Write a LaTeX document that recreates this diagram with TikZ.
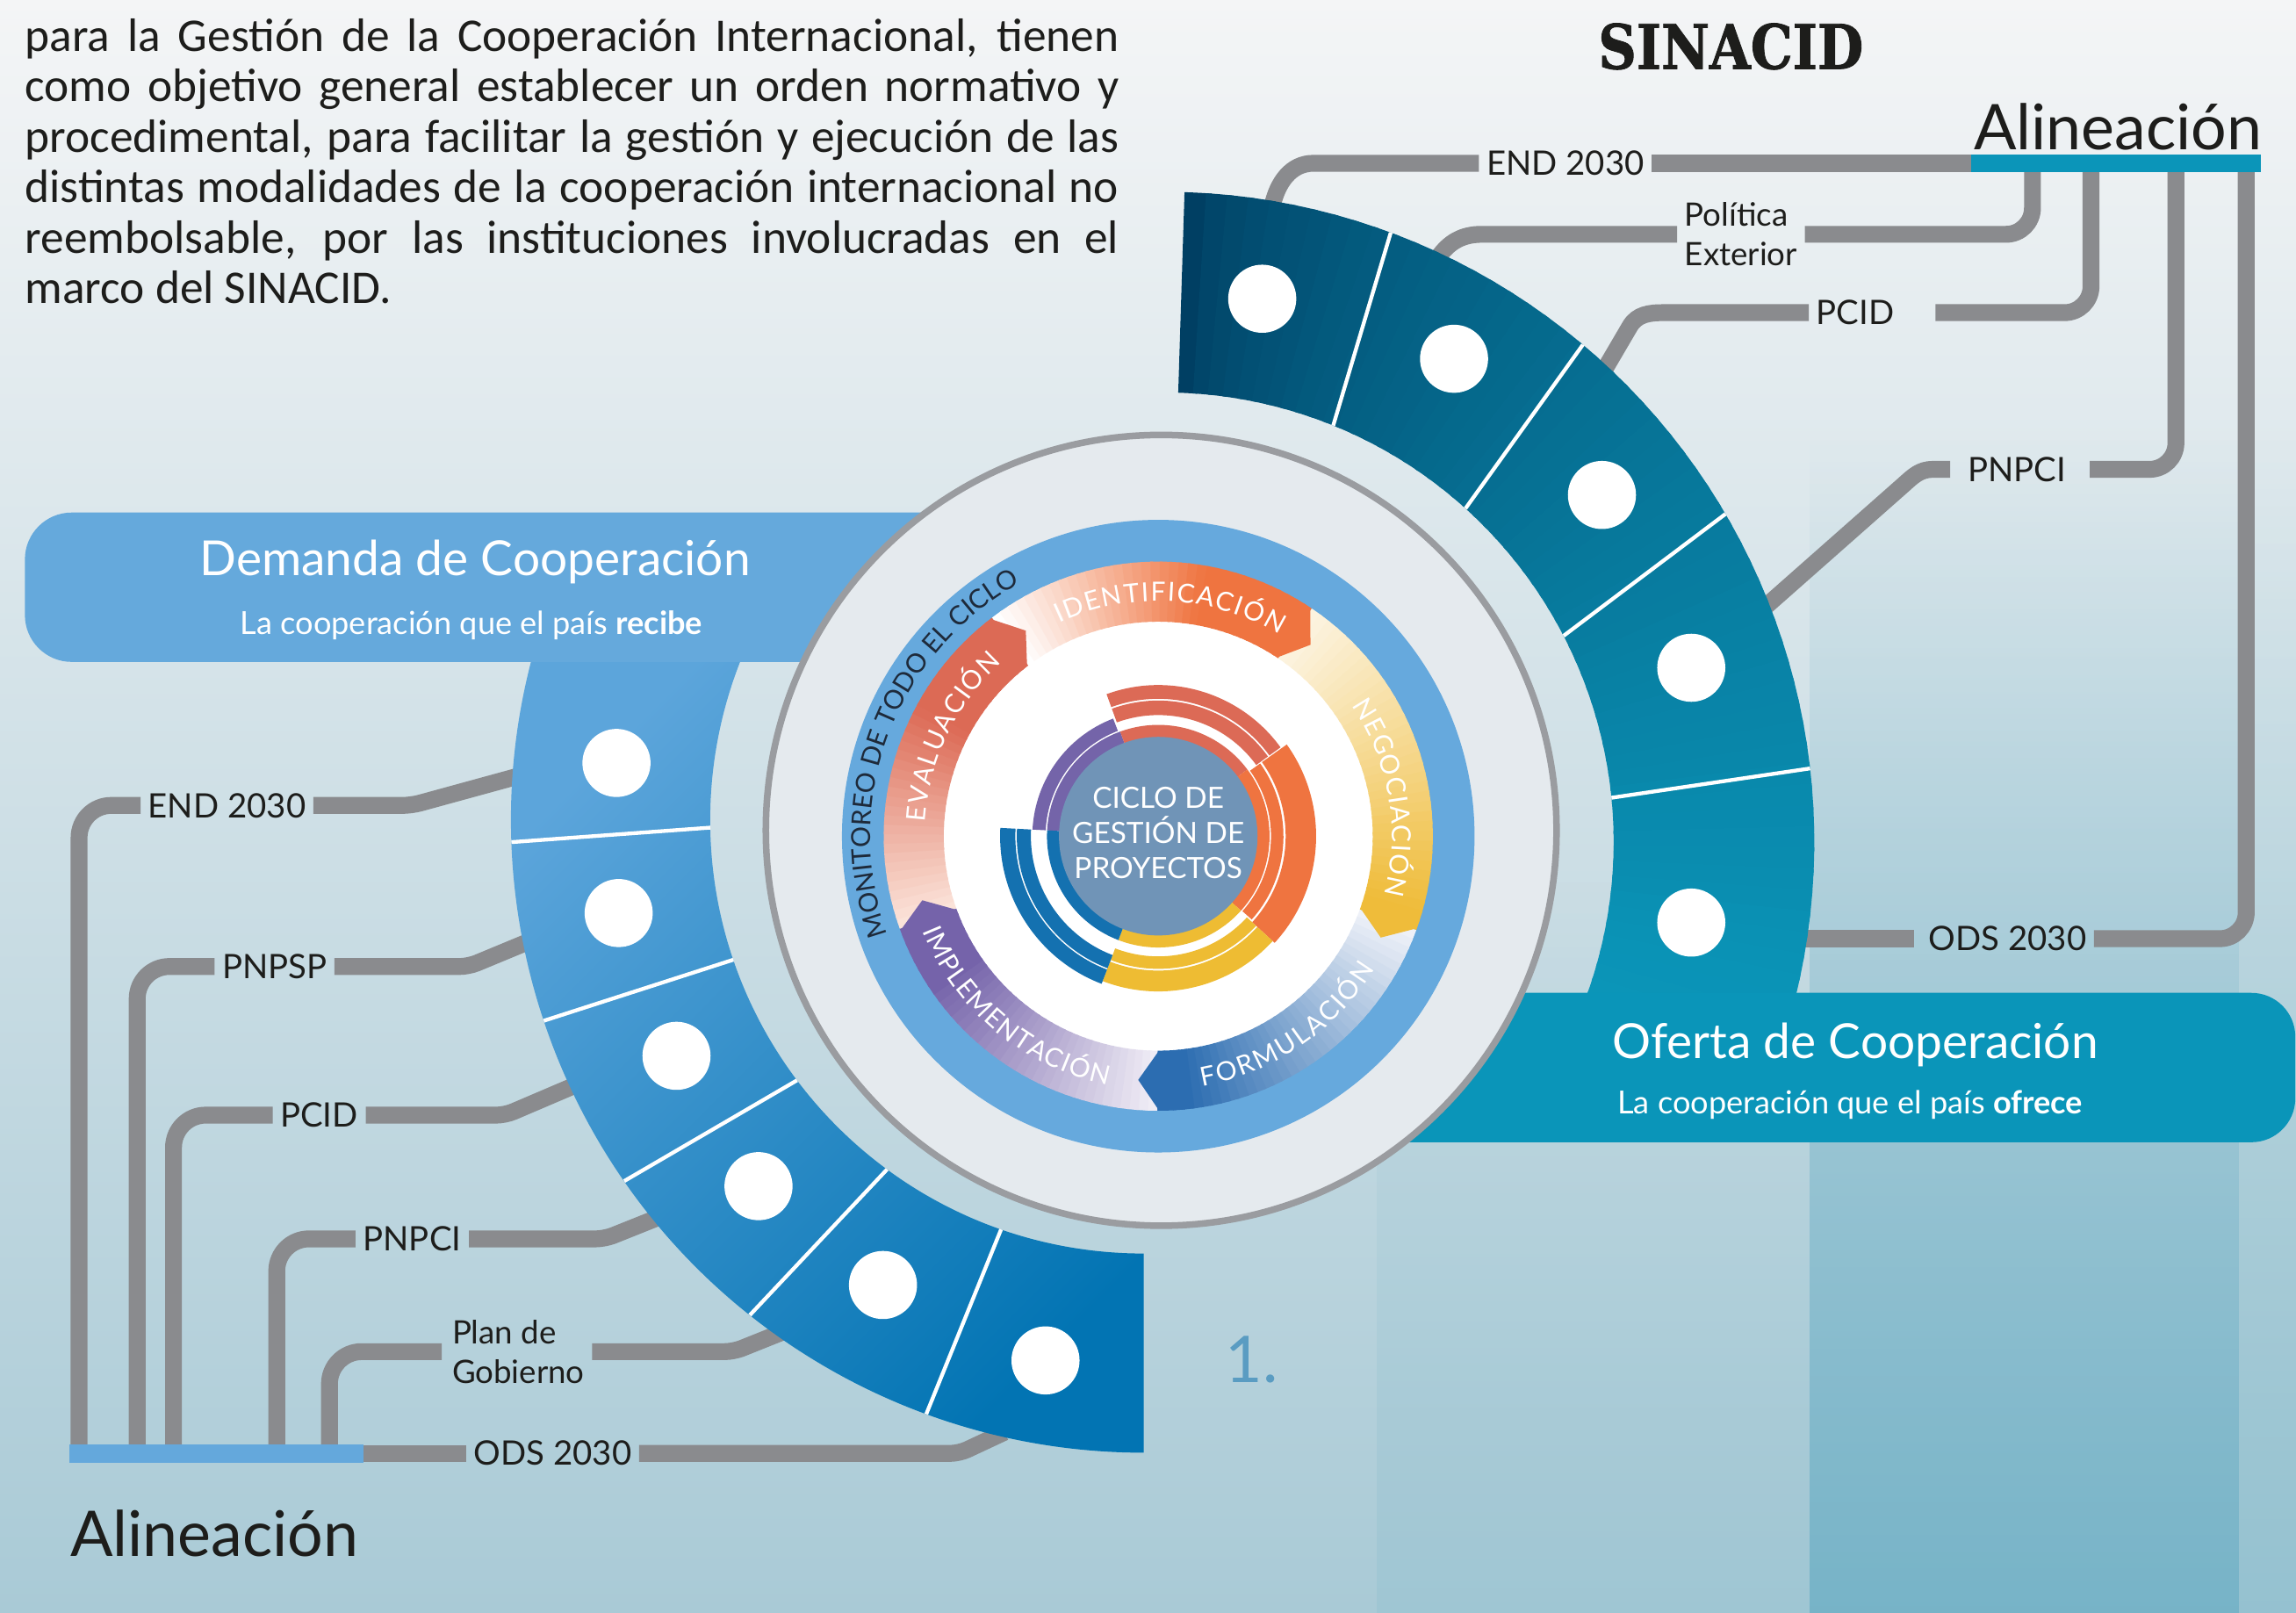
\documentclass[tikz,border=0pt]{standalone}
\usepackage{fontspec}
\setmainfont{Lato}
\newfontfamily\lato{Lato}
\newfontfamily\bodyfont{Carlito}
\newfontfamily\sinfont{DejaVu Serif}[FakeStretch=0.86, BoldFeatures={FakeBold=1.2}]
\usetikzlibrary{calc,decorations.text,fadings}

\definecolor{bgA}{HTML}{F4F5F6}
\definecolor{bgB}{HTML}{E0E7EB}
\definecolor{bgC}{HTML}{A9CAD6}
\definecolor{stripA}{HTML}{5FA9C1}
\definecolor{stripB}{HTML}{8DBFCE}
\definecolor{stripC}{HTML}{82BACB}
\definecolor{lgray}{HTML}{8A8B8E}
\definecolor{labtext}{HTML}{1D1D1B}
\definecolor{bodytext}{HTML}{1D1D1B}
\definecolor{barteal}{HTML}{0B95B9}
\definecolor{barblue}{HTML}{64A8DC}
\definecolor{dembox}{HTML}{65A9DC}
\definecolor{ofbox}{HTML}{0A95B9}
\definecolor{dmA}{HTML}{5CA5DB}
\definecolor{dmB}{HTML}{0274B3}
\definecolor{ofA}{HTML}{003E62}
\definecolor{ofB}{HTML}{0B97BA}
\definecolor{ringgray}{HTML}{9A9CA0}
\definecolor{circfill}{HTML}{E5EAEE}
\definecolor{ringblue}{HTML}{66A9DD}
\definecolor{diskblue}{HTML}{7094B7}
\definecolor{monit}{HTML}{1E2A3A}
\definecolor{numblue}{HTML}{5A9CC2}
\definecolor{identE}{HTML}{EF7440}
\definecolor{negS}{HTML}{FCF3DF}
\definecolor{negE}{HTML}{EFBC3A}
\definecolor{formS}{HTML}{EEF1F8}
\definecolor{formE}{HTML}{2C6DB1}
\definecolor{implS}{HTML}{EFECF5}
\definecolor{implE}{HTML}{7563AA}
\definecolor{evalS}{HTML}{FBE3D9}
\definecolor{evalE}{HTML}{DC6A55}
\definecolor{rPurple}{HTML}{7464A9}
\definecolor{rRed}{HTML}{DC6A56}
\definecolor{rOrange}{HTML}{EF7440}
\definecolor{rYellow}{HTML}{EEBC33}
\definecolor{rBlue}{HTML}{1471B0}

\tikzfading[name=fadetop, top color=transparent!100, bottom color=transparent!0]

\newcommand\phfont{\lato\fontsize{18}{18}\selectfont\color{white}}
\newcommand\monfont{\lato\fontsize{18}{18}\selectfont\color{monit}}

% start angle, end angle, start colour, end colour, speed
\newcommand\phaseseg[5]{%
  \foreach \k in {0,...,35}{%
    \pgfmathsetmacro\phA{#1+(#2-#1)*\k/36}%
    \pgfmathsetmacro\phB{#1+(#2-#1)*min(\k+1.3,36)/36}%
    \pgfmathtruncatemacro\phT{min(100,#5*\k/35*100)}%
    \fill[#4!\phT!#3] (\phA:146.5pt) arc[start angle=\phA,end angle=\phB,radius=146.5pt]
      -- (\phB:187.5pt) arc[start angle=\phB,end angle=\phA,radius=187.5pt] -- cycle;
  }}
\newcommand\phasetip[2]{\fill[#2] (#1+0.4:187.5pt) -- (#1-4.5:167pt) -- (#1+0.4:146.5pt) -- cycle;}
% colour, a1, a2, r1, r2
\newcommand\bandarc[5]{\fill[#1] (#2:#4pt) arc[start angle=#2,end angle=#3,radius=#4pt] -- (#3:#5pt) arc[start angle=#3,end angle=#2,radius=#5pt] -- cycle;}

\begin{document}
\begin{tikzpicture}[x=1pt,y=1pt,
  conn/.style={draw=lgray, line width=11.5pt},
  lbl/.style={font=\lato\fontsize{23}{27}\selectfont, text=labtext, inner ysep=0pt, inner xsep=5pt},
  lbltwo/.style={lbl, font=\lato\fontsize{22}{27}\selectfont, align=left},
  whitedot/.style={circle, fill=white, minimum size=46.5pt, inner sep=0pt},
  sepline/.style={draw=white, line width=2.6pt},
  bodyline/.style={anchor=base west, inner sep=0pt, font=\bodyfont\fontsize{32}{34.5}\selectfont, text=bodytext},
]
\useasboundingbox (0,0) rectangle (1568,-1101);
\shade[top color=bgA, middle color=bgB, bottom color=bgC] (0,0) rectangle (1568,-1101);
% subtle vertical strips of the backdrop (faded in from the top)
\fill[stripB, fill opacity=0.45, path fading=fadetop] (940,-600) rectangle (1236,-1250);
\fill[stripA, fill opacity=0.8, path fading=fadetop] (1236,-300) rectangle (1529,-1250);
\fill[stripC, fill opacity=0.6, path fading=fadetop] (1529,-300) rectangle (1568,-1250);

% ---------------- paragraph
\node[bodyline] (b1) at (17,-35) {\makebox[747pt][s]{para la Gestión de la Cooperación Internacional, tienen}};
\node[bodyline] (b2) at (17,-69.5) {\makebox[747pt][s]{como objetivo general establecer un orden normativo y}};
\node[bodyline] (b3) at (17,-103.9) {\makebox[747pt][s]{procedimental, para facilitar la gestión y ejecución de las}};
\node[bodyline] (b4) at (17,-138.4) {\makebox[747pt][s]{distintas modalidades de la cooperación internacional no}};
\node[bodyline] (b5) at (17,-172.8) {\makebox[747pt][s]{reembolsable, por las instituciones involucradas en el}};
\node[bodyline] (b6) at (17,-207.3) {marco del SINACID.};

% ---------------- titles
\node[anchor=base, inner sep=0pt, font=\sinfont\bfseries\fontsize{42}{42}\selectfont, text=labtext] (sinacid) at (1182,-47) {SINACID};
\node[anchor=base, inner sep=0pt, font=\lato\fontsize{43}{43}\selectfont, text=labtext] (alinR) at (1446.5,-102) {Alineación};
\node[anchor=base, inner sep=0pt, font=\lato\fontsize{43}{43}\selectfont, text=labtext] (alinL) at (146.5,-1063) {Alineación};
\node[anchor=base, inner sep=0pt, font=\lato\fontsize{44}{44}\selectfont, text=numblue] (num) at (855,-944) {1.};

% ---------------- right connectors (Oferta)
\coordinate (barR1) at (1346,-111.5);
\coordinate (barR2) at (1544,-111.5);
\node[lbl] (tEndR) at (1069,-111.5) {END 2030};
\node[lbltwo] (tPolR) at (1189,-160) {Política\\Exterior};
\node[lbl] (tPcidR) at (1267,-213.5) {PCID};
\node[lbl] (tPnpciR) at (1377.5,-320.5) {PNPCI};
\node[lbl] (tOdsR) at (1371,-641) {ODS 2030};
\coordinate (rE) at (869,-140);
\coordinate (rP) at (982,-176);
\coordinate (rC) at (1096,-252);
\coordinate (rN) at (1206,-414);
\coordinate (rO) at (1222,-641);
\draw[conn] (rE) to[out=77,in=180] (897,-111.5) -- (tEndR.west);
\draw[conn] (tEndR.east) -- (barR1);
\draw[conn] (rP) to[out=55,in=180] (1012,-160) -- (tPolR.west);
\draw[conn, rounded corners=18pt] (tPolR.east) -- (1388,-160) -- (1388,-112);
\draw[conn] (rC) -- (1113,-223) to[out=60,in=180] (1136,-213.5) -- (tPcidR.west);
\draw[conn, rounded corners=18pt] ([xshift=23pt]tPcidR.east) -- (1428,-213.5) -- (1428,-112);
\draw[conn] (rN) -- (1300,-331) to[out=42,in=180] (1320,-320.5) -- ([xshift=-7pt]tPnpciR.west);
\draw[conn, rounded corners=18pt] ([xshift=11pt]tPnpciR.east) -- (1486,-320.5) -- (1486,-112);
\draw[conn] (rO) -- ([xshift=-5pt]tOdsR.west);
\draw[conn, rounded corners=18pt] (tOdsR.east) -- (1534,-641) -- (1534,-112);
\draw[draw=barteal, line width=12.5pt] (barR1) -- (barR2);

% ---------------- left connectors (Demanda)
\coordinate (barL1) at (47.5,-992.5);
\coordinate (barL2) at (248,-992.5);
\node[lbl] (tEndL) at (155,-550) {END 2030};
\node[lbl] (tPnpsp) at (187.5,-660) {PNPSP};
\node[lbl] (tPcidL) at (218,-761.5) {PCID};
\node[lbl] (tPnpciL) at (281.5,-846) {PNPCI};
\node[lbltwo] (tPlan) at (354,-923) {Plan de\\Gobierno};
\node[lbl] (tOdsL) at (377.5,-992.5) {ODS 2030};
\coordinate (dE) at (354,-530);
\coordinate (dN) at (361,-643);
\coordinate (dC) at (393,-741);
\coordinate (dP) at (453,-830);
\coordinate (dG) at (536,-909);
\coordinate (dO) at (686,-978);
\draw[conn, rounded corners=22pt] (54,-992) -- (54,-550) -- (tEndL.west);
\draw[conn, rounded corners=6pt] (tEndL.east) -- (281,-550) -- (dE);
\draw[conn, rounded corners=22pt] (93.7,-992) -- (93.7,-660) -- (tPnpsp.west);
\draw[conn, rounded corners=6pt] (tPnpsp.east) -- (320,-660) -- (dN);
\draw[conn, rounded corners=22pt] (118.5,-992) -- (118.5,-761.5) -- (tPcidL.west);
\draw[conn, rounded corners=6pt] (tPcidL.east) -- (345,-761.5) -- (dC);
\draw[conn, rounded corners=22pt] (189,-992) -- (189,-846) -- (tPnpciL.west);
\draw[conn, rounded corners=6pt] (tPnpciL.east) -- (413,-846) -- (dP);
\draw[conn, rounded corners=22pt] (225,-992) -- (225,-923) -- ([xshift=-2pt]tPlan.west);
\draw[conn, rounded corners=6pt] (tPlan.east) -- (501,-923) -- (dG);
\draw[conn] (barL2) -- (tOdsL.west);
\draw[conn, rounded corners=6pt] (tOdsL.east) -- (655,-992.5) -- (dO);
\draw[draw=barblue, line width=12.5pt] (barL1) -- (barL2);

% ---------------- Demanda ring
\begin{scope}[shift={(781,-560)}]
  \begin{scope}
    \clip (150:432pt) arc[start angle=150,end angle=270,radius=432pt] -- (270:296pt) arc[start angle=270,end angle=150,radius=296pt] -- cycle;
    \shade[top color=dmA, bottom color=dmB, shading angle=45] (-445,120) rectangle (10,-440);
  \end{scope}
  \draw[sepline] (181.0:296pt) -- (182.0:432pt);
  \draw[sepline] (198.8:296pt) -- (198.5:432pt);
  \draw[sepline] (216.9:296pt) -- (214.8:432pt);
  \draw[sepline] (233.7:296pt) -- (231.5:432pt);
  \draw[sepline] (250.8:296pt) -- (249.9:432pt);
\end{scope}
\node[whitedot] (dd1) at (421,-521) {};
\node[whitedot] (dd2) at (422.5,-623.5) {};
\node[whitedot] (dd3) at (462,-721) {};
\node[whitedot] (dd4) at (518,-810) {};
\node[whitedot] (dd5) at (603,-877.5) {};
\node[whitedot] (dd6) at (714,-929) {};

% ---------------- Oferta ring (angular gradient)
\begin{scope}[shift={(795,-575)}]
  \foreach \k in {0,...,59}{%
    \pgfmathsetmacro\phA{88.2-113.2*\k/60}%
    \pgfmathsetmacro\phB{88.2-113.2*min(\k+1.3,60)/60}%
    \pgfmathtruncatemacro\phT{100*min(1,(113.2*\k/60/108.5+0.001)^0.6)}%
    \fill[ofB!\phT!ofA] (\phA:307pt) arc[start angle=\phA,end angle=\phB,radius=307pt]
      -- (\phB:444pt) arc[start angle=\phB,end angle=\phA,radius=444pt] -- cycle;
  }
  \draw[sepline] (67.9:307pt) -- (69.6:444pt);
  \draw[sepline] (47.9:307pt) -- (49.9:444pt);
  \draw[sepline] (27.3:307pt) -- (30.3:444pt);
  \draw[sepline] (5.65:307pt) -- (6.5:444pt);
\end{scope}
\node[whitedot] (od1) at (862,-204) {};
\node[whitedot] (od2) at (993,-245) {};
\node[whitedot] (od3) at (1094,-338) {};
\node[whitedot] (od4) at (1155,-456) {};
\node[whitedot] (od5) at (1155,-630) {};

% ---------------- boxes
\fill[dembox, rounded corners=32pt] (17,-350) rectangle (720,-452);
\fill[ofbox, rounded corners=30pt] (870,-678) rectangle (1567.5,-780);
\node[anchor=base, inner sep=0pt, font=\lato\fontsize{33}{36}\selectfont, text=white] (dTitle) at (324.5,-393) {Demanda de Cooperación};
\node[anchor=base, inner sep=0pt, font=\lato\fontsize{21.7}{24}\selectfont, text=white] (dSub) at (322,-433.5) {La cooperación que el país \textbf{recibe}};
\node[anchor=base, inner sep=0pt, font=\lato\fontsize{33}{36}\selectfont, text=white] (oTitle) at (1267,-723) {Oferta de Cooperación};
\node[anchor=base, inner sep=0pt, font=\lato\fontsize{21.7}{24}\selectfont, text=white] (oSub) at (1263.5,-760.5) {La cooperación que el país \textbf{ofrece}};

% ---------------- central circle
\filldraw[fill=circfill, draw=ringgray, line width=4.5pt] (793,-567) circle[radius=270pt];
\begin{scope}[shift={(791,-571)}]
  \fill[ringblue] (0,0) circle[radius=216pt];
  \fill[white] (0,0) circle[radius=147pt];
  % phases (clockwise)
  \phaseseg{127.3}{56}{white}{identE}{1.5}
  \phaseseg{56}{-20}{negS}{negE}{1.05}
  \phaseseg{-20}{-90.2}{formS}{formE}{1.1}
  \phaseseg{-90.2}{-160.3}{implS}{implE}{1.25}
  \phaseseg{199.7}{127.3}{evalS}{evalE}{1.5}
  \phasetip{56}{identE}
  \phasetip{-20}{negE}
  \phasetip{-90.2}{formE}
  \phasetip{-160.3}{implE}
  \phasetip{127.3}{evalE}
  % phase labels
  \path[decorate, decoration={text along path, text={|\phfont|IDENTIFICACIÓN}, text align={fit to path}}] (115:160.5pt) arc[start angle=115,end angle=59,radius=160.5pt];
  \path[decorate, decoration={text along path, text={|\phfont|NEGOCIACIÓN}, text align={fit to path}}] (34:159.5pt) arc[start angle=34,end angle=-14.5,radius=159.5pt];
  \path[decorate, decoration={text along path, text={|\phfont|FORMULACIÓN}, text align={fit to path}}] (-80:173.5pt) arc[start angle=-80,end angle=-31.5,radius=173.5pt];
  \path[decorate, decoration={text along path, text={|\phfont|IMPLEMENTACIÓN}, text align={fit to path}}] (202:173.5pt) arc[start angle=202,end angle=258.5,radius=173.5pt];
  \path[decorate, decoration={text along path, text={|\phfont|EVALUACIÓN}, text align={fit to path}}] (176.5:159.5pt) arc[start angle=176.5,end angle=132,radius=159.5pt];
  \path[decorate, decoration={text along path, text={|\monfont|MONITOREO DE TODO EL CICLO}, text align={fit to path}}] (200:196.5pt) arc[start angle=200,end angle=120.5,radius=196.5pt];
  % inner rings
  \bandarc{rPurple}{110}{177}{66}{76}
  \bandarc{rRed}{36.8}{110}{66}{76}
  \bandarc{rOrange}{-42}{36.8}{66}{76}
  \bandarc{rYellow}{-111}{-42}{66}{76}
  \bandarc{rBlue}{177}{249}{66}{76}
  \bandarc{rPurple}{111}{177}{77}{86}
  \bandarc{rOrange}{-41.7}{35.5}{77}{85.5}
  \bandarc{rRed}{36}{110}{82.7}{92.6}
  \bandarc{rRed}{36}{110}{93.8}{103.2}
  \bandarc{rOrange}{-42.5}{35.5}{87}{107.8}
  \bandarc{rYellow}{-111}{-42.5}{82.1}{90.6}
  \bandarc{rYellow}{-111}{-42.5}{91.8}{106}
  \bandarc{rBlue}{177}{249}{87}{96.6}
  \bandarc{rBlue}{177}{249}{97.6}{108}
  \fill[diskblue] (0,0) circle[radius=67.8pt];
  \node[align=center, inner sep=0pt, font=\lato\fontsize{20}{24}\selectfont, text=white] (ciclo) at (0,2) {CICLO DE\\GESTIÓN DE\\PROYECTOS};
\end{scope}
\end{tikzpicture}
\end{document}
